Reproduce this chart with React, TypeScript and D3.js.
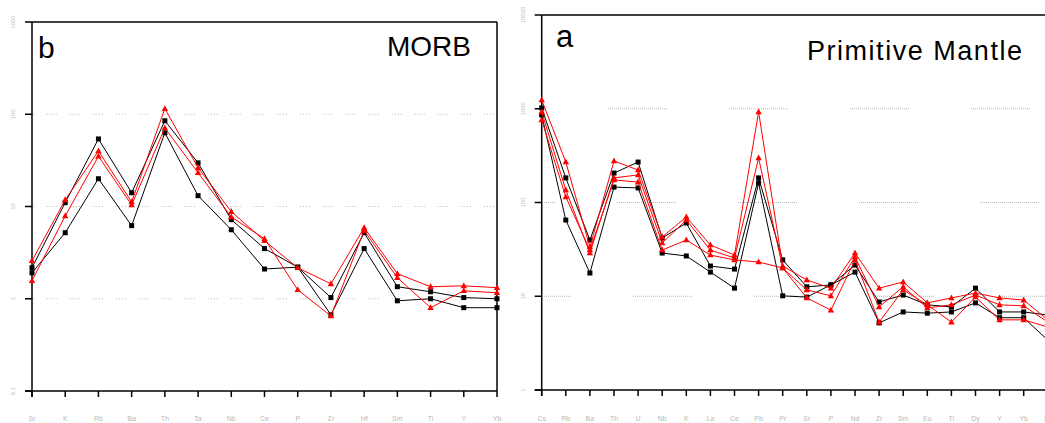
import React from 'react'
import * as d3 from 'd3'

// MORB-normalised panel (b)
const morbElements = ['Sr', 'K', 'Rb', 'Ba', 'Th', 'Ta', 'Nb', 'Ce', 'P', 'Zr', 'Hf', 'Sm', 'Ti', 'Y', 'Yb']
const morbBlack1 = [2.17, 11.0, 54, 14.1, 85, 29.7, 7.2, 3.5, 2.2, 1.03, 5.2, 1.35, 1.19, 1.03, 1.0]
const morbBlack2 = [1.91, 5.2, 20, 6.2, 63, 13.1, 5.6, 2.1, 2.2, 0.67, 3.5, 0.95, 1.0, 0.8, 0.8]
const morbRed1 = [2.58, 11.8, 40, 11.2, 115, 26.3, 8.8, 4.25, 2.17, 1.45, 5.9, 1.87, 1.35, 1.38, 1.32]
const morbRed2 = [1.57, 7.9, 35, 10.4, 71, 23.2, 7.7, 4.47, 1.25, 0.65, 5.5, 1.69, 0.8, 1.22, 1.16]
const morbTicks = [1000, 100, 10, 1, 0.1]

// Primitive-mantle-normalised panel (a)
const pmElements = ['Cs', 'Rb', 'Ba', 'Th', 'U', 'Nb', 'K', 'La', 'Ce', 'Pb', 'Pr', 'Sr', 'P', 'Nd', 'Zr', 'Sm', 'Eu', 'Ti', 'Dy', 'Y', 'Yb', 'Lu']
const pmBlack1 = [1020, 183, 39.8, 206, 270, 41.8, 60.4, 21.0, 19.5, 183, 24.4, 12.6, 13.2, 21.5, 8.7, 10.3, 8.1, 7.7, 12.2, 6.8, 6.8, 6.3]
const pmBlack2 = [858, 65, 17.7, 146, 143, 28.9, 26.9, 18.1, 12.2, 161, 10.1, 9.8, 13.2, 18.1, 5.2, 6.8, 6.6, 6.8, 8.5, 5.9, 5.9, 3.4]
const pmRed1 = [1240, 270, 33.5, 277, 222, 42.9, 70, 35.2, 27.5, 923, 21.0, 14.9, 12.2, 28.9, 12.2, 14.2, 8.5, 9.6, 10.8, 9.6, 9.1, 5.6]
const pmRed2 = [923, 136, 28.9, 183, 197, 37, 65, 31.1, 25.6, 298, 20.0, 11.7, 10.1, 26.2, 7.7, 12.6, 7.5, 8.1, 10.3, 8.1, 7.9, 5.3]
const pmRed3 = [759, 114.5, 31.1, 174, 165, 31.1, 39.8, 27.5, 24.4, 23.2, 20.0, 9.6, 7.1, 24.4, 5.3, 11.7, 8.1, 5.3, 9.8, 5.6, 5.6, 4.7]
const pmTicks = [10000, 1000, 100, 10, 1]

const RED = '#ff0000'
const BLACK = '#000000'
const FONT = 'Liberation Sans, Arial, sans-serif'

type Series = { values: number[]; color: string; marker: 'square' | 'triangle' }

const Marker = ({ x, y, color, marker }) =>
  marker === 'square' ? (
    <rect x={x - 2.5} y={y - 2.5} width={5} height={5} fill={color} />
  ) : (
    <path d={`M${x},${y - 3.5}L${x + 3.2},${y + 2.3}L${x - 3.2},${y + 2.3}Z`} fill={color} />
  )

const Panel = ({ cats, series, ticks, x0, x1, yTop, yBottom, right, gridDash, gridOffsets }) => {
  const x = d3.scalePoint().domain(cats).range([x0, x1])
  const y = d3.scaleLog().domain([ticks[ticks.length - 1], ticks[0]]).range([yBottom, yTop])
  const line = d3
    .line<number>()
    .x((_, i) => x(cats[i]))
    .y(d => y(d))

  return (
    <g>
      {/* grid */}
      {ticks.slice(1, -1).map((t, i) => (
        <line
          key={'g' + t}
          x1={x0}
          x2={right}
          y1={y(t)}
          y2={y(t)}
          stroke="#b4b4b4"
          strokeWidth={1}
          strokeDasharray={gridDash}
          strokeDashoffset={gridOffsets[i]}
        />
      ))}
      {/* frame */}
      <line x1={x0} x2={right} y1={yTop} y2={yTop} stroke="#000" strokeWidth={1.5} />
      <line x1={right} x2={right} y1={yTop} y2={yBottom} stroke="#000" strokeWidth={1.5} />
      <line x1={x0} x2={x0} y1={yTop} y2={yBottom + 6} stroke="#000" strokeWidth={1.5} />
      <line x1={x0 - 7} x2={right} y1={yBottom} y2={yBottom} stroke="#000" strokeWidth={1.5} />
      {ticks.map(t => (
        <g key={'t' + t}>
          <line x1={x0 - 7} x2={x0} y1={y(t)} y2={y(t)} stroke="#000" strokeWidth={1.5} />
          <text
            transform={`translate(${x0 - 17},${y(t)}) rotate(-90)`}
            textAnchor="middle"
            fontSize={6}
            fill="#c4c4c4"
            fontFamily={FONT}
          >
            {t}
          </text>
        </g>
      ))}
      {cats.map(c => (
        <g key={'x' + c}>
          <line x1={x(c)} x2={x(c)} y1={yBottom} y2={yBottom + 6} stroke="#000" strokeWidth={1.5} />
          <text x={x(c)} y={421} textAnchor="middle" fontSize={7} fill="#b8b8b8" fontFamily={FONT}>
            {c}
          </text>
        </g>
      ))}
      {/* data */}
      {series.map((s, si) => (
        <g key={'s' + si}>
          <path d={line(s.values)} fill="none" stroke={s.color} strokeWidth={1} />
          {s.values.map((v, i) => (
            <Marker key={i} x={x(cats[i])} y={y(v)} color={s.color} marker={s.marker} />
          ))}
        </g>
      ))}
    </g>
  )
}

const pmDash = [...Array(29).fill('1,1'), '1,62'].join(',')

export default function App() {
  const morbSeries: Series[] = [
    { values: morbBlack1, color: BLACK, marker: 'square' },
    { values: morbBlack2, color: BLACK, marker: 'square' },
    { values: morbRed1, color: RED, marker: 'triangle' },
    { values: morbRed2, color: RED, marker: 'triangle' },
  ]
  const pmSeries: Series[] = [
    { values: pmBlack1, color: BLACK, marker: 'square' },
    { values: pmBlack2, color: BLACK, marker: 'square' },
    { values: pmRed1, color: RED, marker: 'triangle' },
    { values: pmRed2, color: RED, marker: 'triangle' },
    { values: pmRed3, color: RED, marker: 'triangle' },
  ]
  return (
    <svg width={1045} height={423} style={{ position: 'absolute', left: 0, top: 0, background: '#fff' }}>
      <rect width={1045} height={423} fill="#fff" />
      <Panel
        cats={morbElements}
        series={morbSeries}
        ticks={morbTicks}
        x0={32}
        x1={497}
        right={497}
        yTop={22}
        yBottom={391}
        gridDash="1,2,1,2,1,2,1,13"
        gridOffsets={[-14.7, -14.7, -14.7]}
      />
      <Panel
        cats={pmElements}
        series={pmSeries}
        ticks={pmTicks}
        x0={541.7}
        x1={1047.8}
        right={1060}
        yTop={15}
        yBottom={390}
        gridDash={pmDash}
        gridOffsets={[54.7, 45.7, 29.7]}
      />
      <text x={38} y={58} fontSize={30} fontFamily={FONT} fill="#000">b</text>
      <text x={471} y={56} fontSize={28} fontFamily={FONT} textAnchor="end" fill="#000">MORB</text>
      <text x={556} y={47} fontSize={31} fontFamily={FONT} fill="#000">a</text>
      <text x={807} y={60} fontSize={27} fontFamily={FONT} fill="#000" textLength={215} lengthAdjust="spacing">
        Primitive Mantle
      </text>
    </svg>
  )
}
